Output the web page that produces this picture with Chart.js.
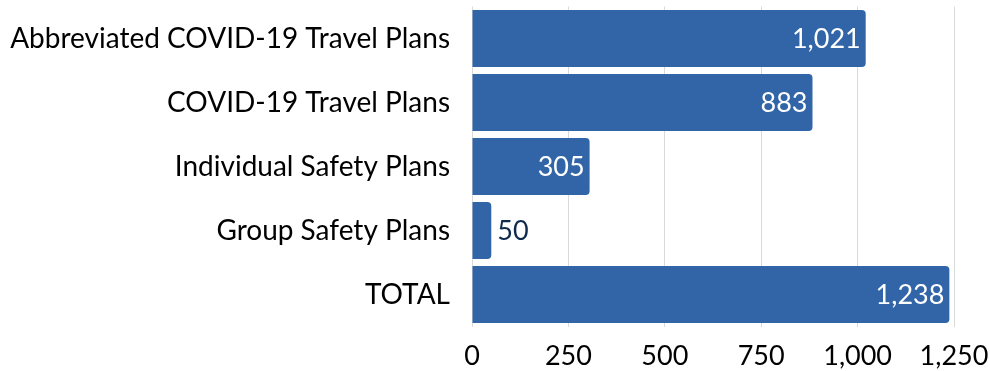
<!DOCTYPE html>
<html>
<head>
<meta charset="utf-8">
<script src="https://cdn.jsdelivr.net/npm/chart.js@4/dist/chart.umd.min.js"></script>
<style>
  html, body { margin: 0; padding: 0; background: #ffffff; }
  #wrap { width: 990px; height: 371px; position: relative; }
</style>
</head>
<body>
<div id="wrap"><canvas id="chart"></canvas></div>
<script>
// Plan counts by type
const categories = [
  'Abbreviated COVID-19 Travel Plans',
  'COVID-19 Travel Plans',
  'Individual Safety Plans',
  'Group Safety Plans',
  'TOTAL'
];
const planCounts = [1021, 883, 305, 50, 1238];
const axisTicks = [0, 250, 500, 750, 1000, 1250];

const FONT = 'Lato, "Open Sans", sans-serif';
const BAR_BLUE = '#3265a7';

// Writes each bar's value at its end: inside in white, or just outside when the bar is too short
const valueLabels = {
  id: 'valueLabels',
  afterDatasetsDraw(chart) {
    const ctx = chart.ctx;
    const meta = chart.getDatasetMeta(0);
    ctx.save();
    ctx.font = '400 27px ' + FONT;
    ctx.textBaseline = 'middle';
    meta.data.forEach((bar, i) => {
      const text = planCounts[i].toLocaleString('en-US');
      const w = ctx.measureText(text).width;
      const barLen = bar.x - bar.base;
      if (barLen > w + 12) {
        ctx.fillStyle = '#ffffff';
        ctx.textAlign = 'right';
        ctx.fillText(text, bar.x - 5, bar.y + 1);
      } else {
        ctx.fillStyle = '#0e2a4d';
        ctx.textAlign = 'left';
        ctx.fillText(text, bar.x + 6, bar.y + 1);
      }
    });
    ctx.restore();
  }
};

new Chart(document.getElementById('chart'), {
  type: 'bar',
  data: {
    labels: categories,
    datasets: [{
      data: planCounts,
      backgroundColor: BAR_BLUE,
      borderRadius: { topRight: 4, bottomRight: 4, topLeft: 0, bottomLeft: 0 },
      borderSkipped: 'start',
      barPercentage: 0.89,
      categoryPercentage: 1.0
    }]
  },
  options: {
    indexAxis: 'y',
    responsive: true,
    maintainAspectRatio: false,
    animation: false,
    layout: { padding: { top: 6.5, right: 36, bottom: 0, left: 0 } },
    plugins: {
      legend: { display: false },
      tooltip: { enabled: false }
    },
    scales: {
      x: {
        min: axisTicks[0],
        max: axisTicks[axisTicks.length - 1],
        afterBuildTicks(scale) {
          scale.ticks = axisTicks.map(v => ({ value: v }));
        },
        ticks: {
          color: '#000000',
          font: { family: FONT, size: 27 },
          padding: 14,
          callback: v => Number(v).toLocaleString('en-US'),
          maxRotation: 0
        },
        grid: { color: '#d9d9d9', lineWidth: 1, drawTicks: false },
        border: { display: false },
        afterFit(scale) {
          scale.height = 44.5;
          scale.paddingLeft = 0;
          scale.paddingRight = 0;
        }
      },
      y: {
        ticks: {
          color: '#000000',
          font: { family: FONT, size: 28 },
          padding: 22
        },
        grid: { display: false, drawTicks: false },
        border: { display: false },
        afterFit(scale) {
          scale.width = 472;
          scale.paddingTop = 0;
          scale.paddingBottom = 0;
        }
      }
    }
  },
  plugins: [valueLabels]
});
</script>
</body>
</html>
